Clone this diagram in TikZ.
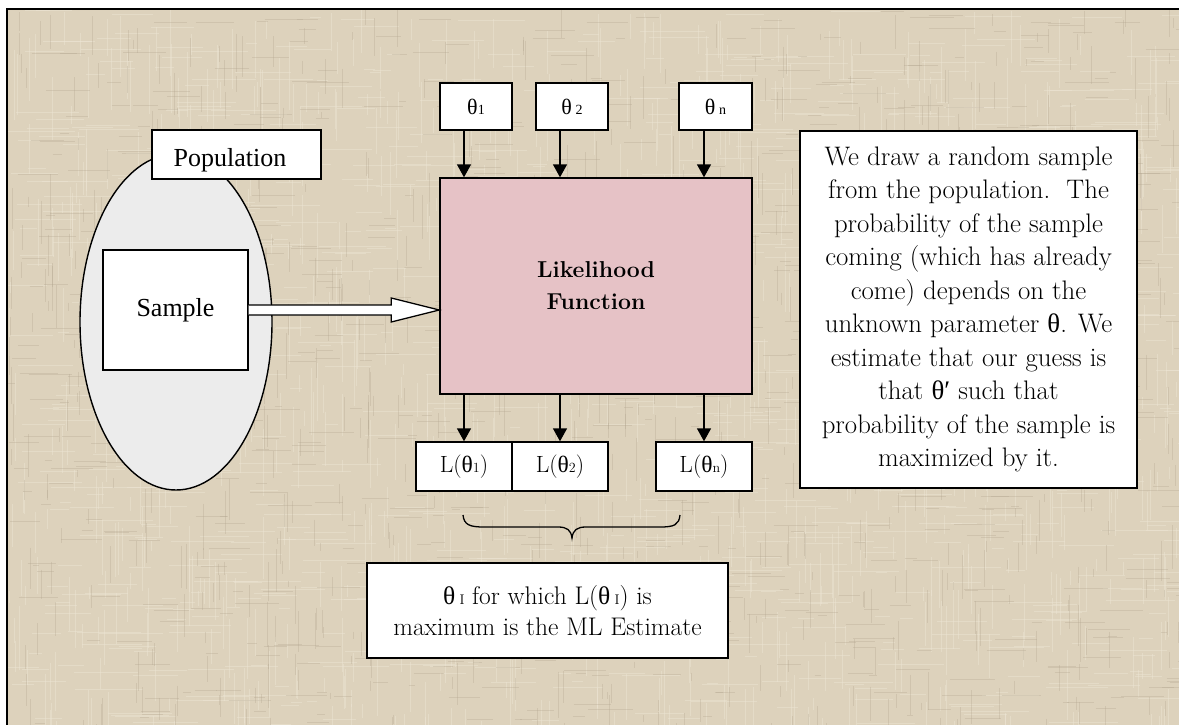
\documentclass[tikz,border=0pt]{standalone}
\usepackage{fontspec}
\newfontfamily\grk{Liberation Serif}
\newfontfamily\tms{Liberation Serif}
\usetikzlibrary{arrows.meta,calc,shapes.geometric}
\definecolor{linen}{HTML}{DDD2BC}
\definecolor{linenlight}{HTML}{EEE6D5}
\definecolor{linendark}{HTML}{B0A38C}
\definecolor{popgray}{HTML}{ECECEC}
\definecolor{likpink}{HTML}{E6C2C6}
\tikzset{
  wbox/.style={draw, line width=1.4pt, fill=white, inner sep=0pt},
  arr/.style={line width=1.5pt, -{Triangle[length=13pt,width=14pt]}},
  th/.style={font=\grk\fontsize{22}{26}\selectfont},
  pal/.style={font=\fontsize{23.5}{30}\selectfont},
}
\newcommand{\idx}[1]{{\fontsize{14}{14}\selectfont #1}}
\newcommand{\tht}{{\grk θ}}
\begin{document}
\begin{tikzpicture}[x=1pt,y=-1pt]
\useasboundingbox (0,0) rectangle (1179,725);
\fill[white] (0,0) rectangle (1179,725);

% linen background with woven texture
\begin{scope}
  \clip (7,9) rectangle (1179,725);
  \fill[linen] (7,9) rectangle (1179,725);
  \pgfmathsetseed{42}
  \foreach \i in {1,...,900}{
    \pgfmathsetmacro\xa{7+rnd*1172}
    \pgfmathsetmacro\ya{9+rnd*716}
    \pgfmathsetmacro\len{10+rnd*60}
    \draw[linenlight, line width=1pt, opacity=.45] (\xa,\ya) -- ++(0,\len);
  }
  \foreach \i in {1,...,900}{
    \pgfmathsetmacro\xa{7+rnd*1172}
    \pgfmathsetmacro\ya{9+rnd*716}
    \pgfmathsetmacro\len{10+rnd*60}
    \draw[linenlight, line width=1pt, opacity=.45] (\xa,\ya) -- ++(\len,0);
  }
  \foreach \i in {1,...,700}{
    \pgfmathsetmacro\xa{7+rnd*1172}
    \pgfmathsetmacro\ya{9+rnd*716}
    \pgfmathsetmacro\len{6+rnd*40}
    \draw[linendark, line width=.9pt, opacity=.3] (\xa,\ya) -- ++(0,\len);
  }
  \foreach \i in {1,...,700}{
    \pgfmathsetmacro\xa{7+rnd*1172}
    \pgfmathsetmacro\ya{9+rnd*716}
    \pgfmathsetmacro\len{6+rnd*40}
    \draw[linendark, line width=.9pt, opacity=.3] (\xa,\ya) -- ++(\len,0);
  }
\end{scope}
\draw[line width=2pt] (7,725) -- (7,9) -- (1179,9);

% population and sample
\node[draw, line width=1.4pt, fill=popgray, ellipse, minimum width=192pt, minimum height=336pt, inner sep=0pt] (popn) at (176,322) {};
\node[wbox, minimum width=169pt, minimum height=49pt] (pop) at (236.5,154.5) {};
\node[anchor=base, font=\tms\fontsize{26}{30}\selectfont] at ($(pop.center)+(-6.5,11.5)$) {Population};
\node[wbox, minimum width=145pt, minimum height=120pt, font=\tms\fontsize{26}{30}\selectfont] (sample) at (175.5,310) {Sample};

% likelihood function
\node[draw, line width=1.4pt, fill=likpink, minimum width=312pt, minimum height=216pt, align=center,
      font=\bfseries\fontsize{23}{32}\selectfont] (lik) at (596,286) {Likelihood\\Function};

% parameter values
\node[wbox, minimum width=72pt, minimum height=47pt, th] (t1) at (476,106.5) {θ\idx{1}};
\node[wbox, minimum width=72pt, minimum height=47pt, th] (t2) at (572,106.5) {θ\,\idx{2}};
\node[wbox, minimum width=73pt, minimum height=47pt, th] (tn) at (715.5,106.5) {θ\,\idx{n}};

% likelihood values
\node[wbox, minimum width=96pt, minimum height=49pt, pal] (l1) at (464,466.5) {L(\tht\idx{1})};
\node[wbox, minimum width=96pt, minimum height=49pt, pal] (l2) at (560,466.5) {L(\tht\idx{2})};
\node[wbox, minimum width=96pt, minimum height=49pt, pal] (ln) at (704,466.5) {L(\tht\idx{n})};

% connectors
\foreach \k/\t in {l1/t1, l2/t2, ln/tn}{
  \draw[arr] (\t.south -| \k) -- (lik.north -| \k);
  \draw[arr] (lik.south -| \k) -- (\k.north);
}

% hollow block arrow from the sample to the likelihood function
\coordinate (a0) at (sample.east);
\coordinate (a1) at (lik.west |- sample.east);
\draw[line width=1.3pt, fill=white, line join=miter]
  ($(a0)+(0,-5)$) -- ($(a1)+(-48,-5)$) -- ($(a1)+(-48,-12)$) -- (a1)
  -- ($(a1)+(-48,12)$) -- ($(a1)+(-48,5)$) -- ($(a0)+(0,5)$);

% brace under the likelihood values
\draw[line width=1.3pt]
  (463,515) .. controls (464,525) and (470,527) .. (484,527) -- (558,527)
  .. controls (567,527) and (571,530) .. (572,538)
  .. controls (573,530) and (577,527) .. (586,527) -- (660,527)
  .. controls (674,527) and (679,525) .. (680,515);

% conclusion
\node[wbox, minimum width=361pt, minimum height=95pt, align=center,
      font=\fontsize{25.5}{31}\selectfont] (res) at (547.5,610.5)
  {\tht\,\idx{I} for which L(\tht\,\idx{I}) is\\maximum is the ML Estimate};

% explanation
\node[draw, line width=1.8pt, fill=white, inner sep=0pt, minimum width=337pt, minimum height=357pt,
      align=center, font=\fontsize{26.8}{33.5}\selectfont] (note) at (968.5,309.5)
  {We draw a random sample\\from the population.\ \ The\\probability of the sample\\coming (which has already\\come) depends on the\\unknown parameter \tht. We\\estimate that our guess is\\that \tht{\grk ′} such that\\probability of the sample is\\maximized by it.};
\end{tikzpicture}
\end{document}
